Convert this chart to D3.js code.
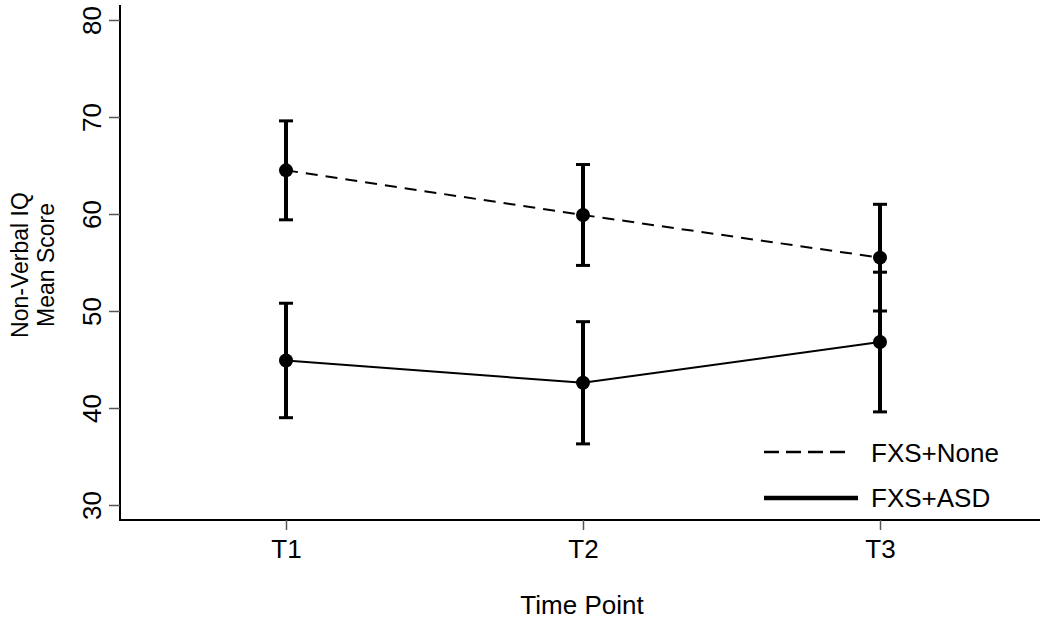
<!DOCTYPE html>
<html><head><meta charset="utf-8">
<script src="https://cdn.jsdelivr.net/npm/d3@7"></script>
<style>body{margin:0;background:#fff}text{font-family:"Liberation Sans",Arial,sans-serif;fill:#000}</style>
</head><body>
<svg id="c" width="1050" height="621"></svg>
<script>
const timePoints = ["T1","T2","T3"];
const groups = ["FXS+None","FXS+ASD"];
const noneMean = [64.5, 59.9, 55.5];
const noneErr  = [5.1, 5.2, 5.5];
const asdMean  = [44.9, 42.6, 46.8];
const asdErr   = [5.9, 6.3, 7.2];
const yTicks = [30,40,50,60,70,80];

const svg = d3.select("#c");
const y = d3.scaleLinear().domain([30,80]).range([505,20]);
const x = d3.scalePoint().domain(timePoints).range([286,880]);
const axisLeftX = 120, axisBottomY = 520;
const FF = "Liberation Sans, Arial, sans-serif";

svg.append("line").attr("x1",axisLeftX).attr("x2",axisLeftX).attr("y1",5).attr("y2",axisBottomY+1).attr("stroke","#000").attr("stroke-width",2);
svg.append("line").attr("x1",axisLeftX).attr("x2",1040).attr("y1",axisBottomY).attr("y2",axisBottomY).attr("stroke","#000").attr("stroke-width",2);

const ya = svg.append("g").attr("transform",`translate(${axisLeftX},0)`)
  .call(d3.axisLeft(y).tickValues(yTicks).tickSize(11).tickFormat(d3.format("d")));
ya.select(".domain").remove();
ya.selectAll(".tick line").attr("stroke","#555").attr("stroke-width",1.5);
ya.selectAll(".tick text")
  .attr("x",null).attr("dy",null)
  .attr("text-anchor","middle").attr("dominant-baseline","central")
  .attr("transform","translate(-28,0) rotate(-90)")
  .style("font-size","26px").style("font-family",FF);

const xa = svg.append("g").attr("transform",`translate(0,${axisBottomY})`)
  .call(d3.axisBottom(x).tickSize(10));
xa.select(".domain").remove();
xa.selectAll(".tick line").attr("stroke","#555").attr("stroke-width",1.5);
xa.selectAll(".tick text").attr("y",38).attr("dy",null)
  .style("font-size","26px").style("font-family",FF);

svg.append("text").attr("x",582).attr("y",614).attr("text-anchor","middle").style("font-size","26px").text("Time Point");
const yt = svg.append("text").attr("transform","translate(33,265) rotate(-90)").attr("text-anchor","middle").style("font-size","23px");
yt.append("tspan").attr("x",0).attr("y",-5).text("Non-Verbal IQ");
yt.append("tspan").attr("x",0).attr("y",21).text("Mean Score");

function drawSeries(means, errs, dash){
  const pts = timePoints.map((t,i)=>({t, m:means[i], e:errs[i]}));
  const line = d3.line().x(d=>x(d.t)).y(d=>y(d.m));
  svg.append("path").datum(pts).attr("d",line).attr("fill","none").attr("stroke","#000")
    .attr("stroke-width",2).attr("stroke-dasharray",dash);
  const g = svg.append("g");
  pts.forEach(d=>{
    g.append("line").attr("x1",x(d.t)).attr("x2",x(d.t)).attr("y1",y(d.m+d.e)).attr("y2",y(d.m-d.e)).attr("stroke","#000").attr("stroke-width",4);
    [d.m+d.e, d.m-d.e].forEach(v=>{
      g.append("line").attr("x1",x(d.t)-7).attr("x2",x(d.t)+7).attr("y1",y(v)).attr("y2",y(v)).attr("stroke","#000").attr("stroke-width",3);
    });
    g.append("circle").attr("cx",x(d.t)).attr("cy",y(d.m)).attr("r",7).attr("fill","#000");
  });
}
drawSeries(noneMean, noneErr, "12,8");
drawSeries(asdMean, asdErr, null);

const leg = [{name:groups[0], dash:"15,7", w:2.5, y:452, ty:462},{name:groups[1], dash:null, w:4.5, y:498, ty:507}];
leg.forEach(l=>{
  svg.append("line").attr("x1",764).attr("x2",l.dash?850:858).attr("y1",l.y).attr("y2",l.y).attr("stroke","#000")
    .attr("stroke-width",l.w).attr("stroke-dasharray",l.dash);
  svg.append("text").attr("x",871).attr("y",l.ty).style("font-size","26px").text(l.name);
});
</script>
</body></html>
